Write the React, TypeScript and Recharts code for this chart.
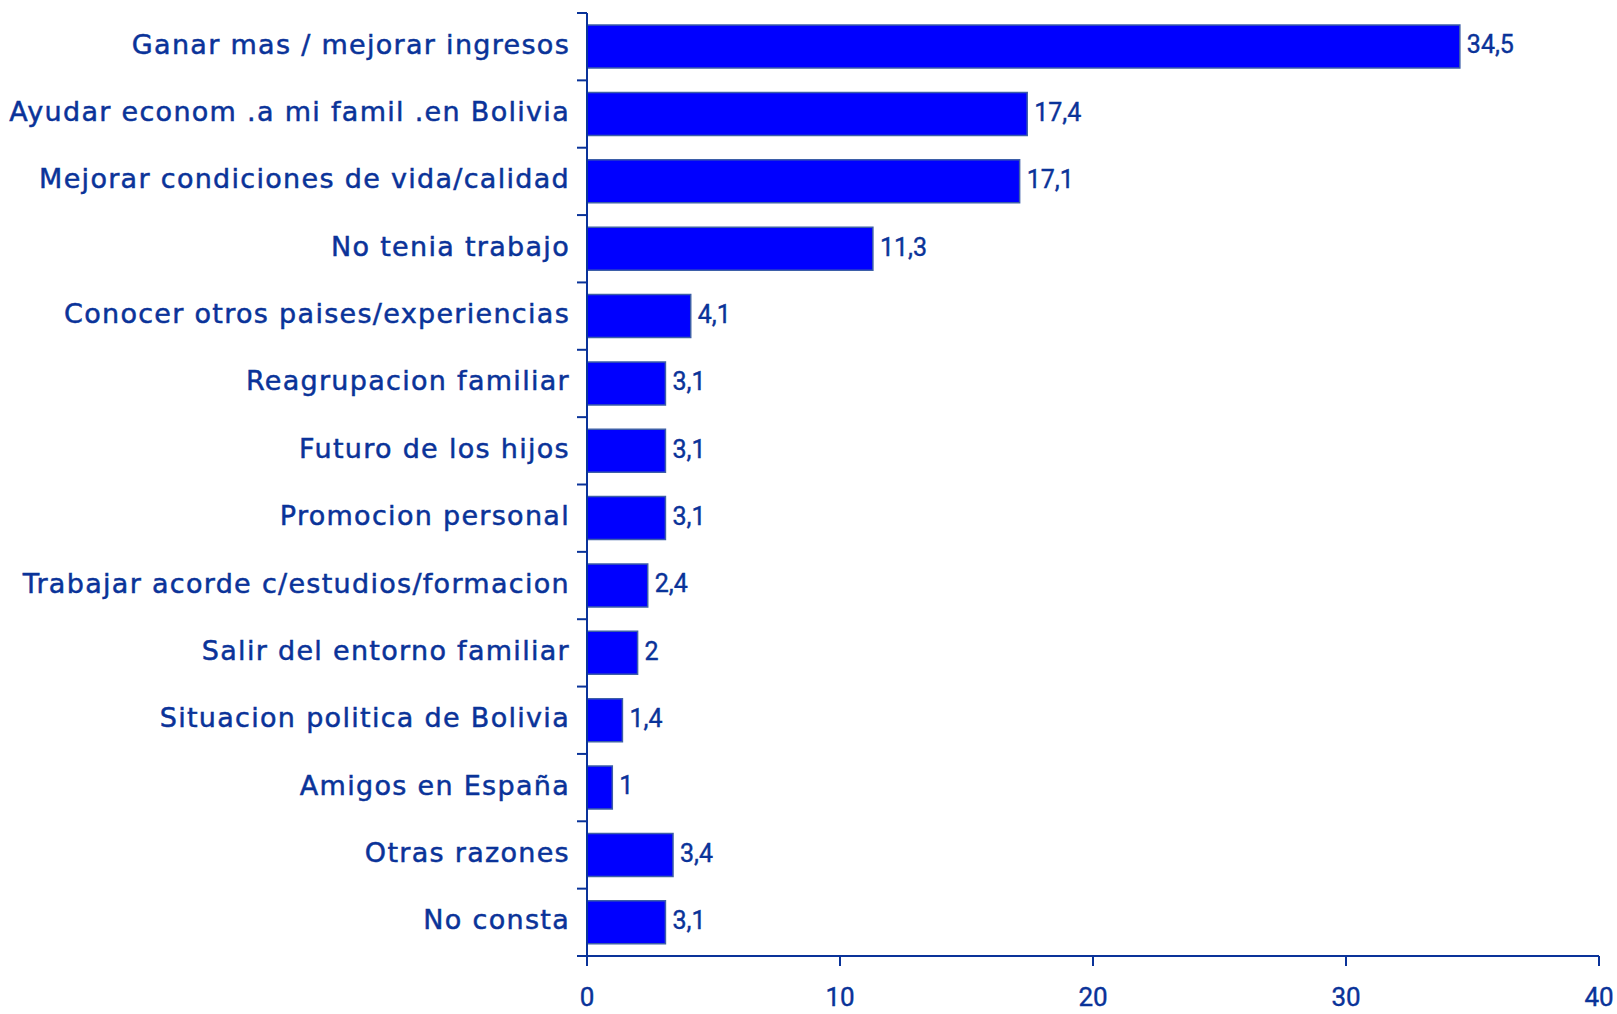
import React from "react"
import { BarChart, Bar, XAxis, YAxis, LabelList } from "recharts"

const categories = [
  "Ganar mas / mejorar ingresos",
  "Ayudar econom .a mi famil .en Bolivia",
  "Mejorar condiciones de vida/calidad",
  "No tenia trabajo",
  "Conocer otros paises/experiencias",
  "Reagrupacion familiar",
  "Futuro de los hijos",
  "Promocion personal",
  "Trabajar acorde c/estudios/formacion",
  "Salir del entorno familiar",
  "Situacion politica de Bolivia",
  "Amigos en España",
  "Otras razones",
  "No consta",
]

const values = [34.5, 17.4, 17.1, 11.3, 4.1, 3.1, 3.1, 3.1, 2.4, 2, 1.4, 1, 3.4, 3.1]

const xTicks = [0, 10, 20, 30, 40]

const data = categories.map((name, i) => ({ name, value: values[i] }))

const BLUE = "#0a3399"
const WIDTH = 1617
const HEIGHT = 1014
const TOP = 13
const BOTTOM = 58
const XAXIS_H = 50
const band = (HEIGHT - TOP - BOTTOM) / categories.length

// y axis: label + tick marks on the band boundaries (not at the centers)
const CategoryTick = (props: any) => {
  const { x, y, payload, index } = props
  const axisX = x + 17
  return (
    <g>
      <line x1={axisX - 10} x2={axisX} y1={y - band / 2} y2={y - band / 2} stroke={BLUE} strokeWidth={2} />
      {index === categories.length - 1 && (
        <line x1={axisX - 10} x2={axisX} y1={y + band / 2} y2={y + band / 2} stroke={BLUE} strokeWidth={2} />
      )}
      <text
        x={x}
        y={y}
        dy={7}
        textAnchor="end"
        fill={BLUE}
        stroke={BLUE}
        strokeWidth={0.5}
        fontSize={27}
        letterSpacing={1.3}
        fontFamily="'DejaVu Sans', sans-serif"
      >
        {payload.value}
      </text>
    </g>
  )
}

export default function App() {
  return (
    <div style={{ position: "absolute", left: 0, top: 0, background: "#fff" }}>
      <BarChart
        width={WIDTH}
        height={HEIGHT}
        data={data}
        layout="vertical"
        margin={{ top: TOP, right: 18, bottom: BOTTOM - XAXIS_H, left: 0 }}
        barCategoryGap="18%"
      >
        <XAxis
          type="number"
          domain={[0, 40]}
          ticks={xTicks}
          height={XAXIS_H}
          axisLine={{ stroke: BLUE, strokeWidth: 2 }}
          tickLine={{ stroke: BLUE, strokeWidth: 2 }}
          tickSize={10}
          tickMargin={22}
          tick={{ fill: BLUE, stroke: BLUE, strokeWidth: 0.4, fontSize: 26, fontFamily: "'Liberation Sans Narrow', 'Roboto', sans-serif" }}
        />
        <YAxis
          type="category"
          dataKey="name"
          width={587}
          axisLine={{ stroke: BLUE, strokeWidth: 2 }}
          tickLine={false}
          tickSize={0}
          tickMargin={17}
          tick={<CategoryTick />}
          interval={0}
        />
        <Bar dataKey="value" fill="#0000ff" stroke="#3d5fa8" strokeWidth={1.5} isAnimationActive={false}>
          <LabelList
            dataKey="value"
            position="right"
            offset={7}
            dy={-2}
            formatter={(v: any) => String(v).replace(".", ",")}
            style={{ fill: BLUE, stroke: BLUE, strokeWidth: 0.4, fontSize: 25, fontFamily: "'Liberation Sans Narrow', 'Roboto', sans-serif" }}
          />
        </Bar>
      </BarChart>
    </div>
  )
}
